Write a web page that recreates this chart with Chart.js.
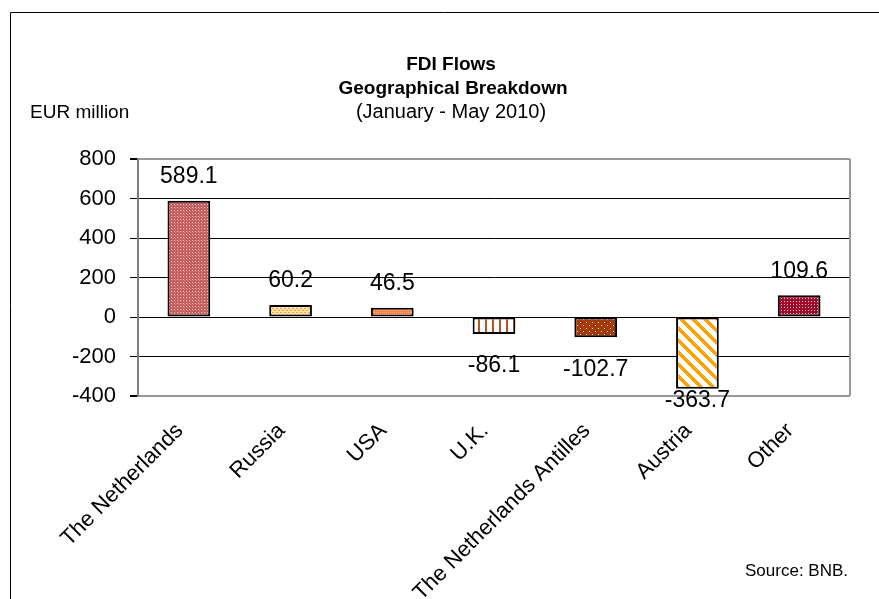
<!DOCTYPE html>
<html>
<head>
<meta charset="utf-8">
<script src="https://cdn.jsdelivr.net/npm/chart.js@4.4.1/dist/chart.umd.min.js"></script>
<style>
  html, body { margin: 0; padding: 0; background: #fff; }
  #wrap { position: relative; width: 879px; height: 599px; }
</style>
</head>
<body>
<div id="wrap"><canvas id="grafica" width="879" height="599"></canvas></div>
<script>
const paises = ["The Netherlands", "Russia", "USA", "U.K.", "The Netherlands Antilles", "Austria", "Other"];
const valores = [589.1, 60.2, 46.5, -86.1, -102.7, -363.7, 109.6];
const ticksY = [-400, -200, 0, 200, 400, 600, 800];

const FUENTE = "'Liberation Sans', Arial, sans-serif";

// small canvas tiles used as bar fills
function patron(w, h, pintar) {
  const c = document.createElement("canvas");
  c.width = w;
  c.height = h;
  const g = c.getContext("2d");
  pintar(g, w, h);
  return document.getElementById("grafica").getContext("2d").createPattern(c, "repeat");
}

function px(g, color, x, y, w, h) {
  g.fillStyle = color;
  g.fillRect(x, y, w || 1, h || 1);
}

const rellenos = [
  patron(3, 3, (g) => {
    px(g, "#c45c5c", 0, 0, 3, 3);
    px(g, "#f2c8c8", 0, 0);
    px(g, "#d88484", 1, 1);
  }),
  patron(4, 4, (g) => {
    px(g, "#ffe4ac", 0, 0, 4, 4);
    px(g, "#f7a040", 0, 0, 2, 1); px(g, "#f7a040", 2, 2, 2, 1);
  }),
  patron(2, 2, (g) => {
    px(g, "#ff8040", 0, 0, 2, 2);
    px(g, "#ffb088", 0, 0);
  }),
  patron(7, 7, (g) => {
    px(g, "#ffffff", 0, 0, 7, 7);
    px(g, "#b5541f", 2, 0, 2, 7);
  }),
  patron(6, 6, (g) => {
    px(g, "#a33a0c", 0, 0, 6, 6);
    px(g, "#f4d8c8", 1, 1); px(g, "#f4d8c8", 4, 4);
  }),
  patron(12, 12, (g) => {
    px(g, "#ffffff", 0, 0, 12, 12);
    for (let y = 0; y < 12; y++) {
      for (let x = 0; x < 12; x++) {
        if ((((x - y) % 12) + 12) % 12 < 5) px(g, "#ffa200", x, y);
      }
    }
  }),
  patron(3, 3, (g) => {
    px(g, "#9c0c2c", 0, 0, 3, 3);
    px(g, "#f2b8c4", 1, 1);
  })
];

const textos = {
  id: "textos",
  beforeDraw(chart) {
    const ctx = chart.ctx;
    ctx.save();
    ctx.fillStyle = "#fff";
    ctx.fillRect(0, 0, chart.width, chart.height);
    // outer frame
    ctx.strokeStyle = "#000";
    ctx.lineWidth = 1;
    ctx.beginPath();
    ctx.moveTo(10.5, chart.height);
    ctx.lineTo(10.5, 12.5);
    ctx.lineTo(chart.width, 12.5);
    ctx.stroke();
    ctx.restore();
  },
  afterDraw(chart) {
    const ctx = chart.ctx;
    const a = chart.chartArea;
    ctx.save();
    ctx.fillStyle = "#000";
    ctx.textBaseline = "middle";
    ctx.textAlign = "center";
    ctx.font = "bold 19px " + FUENTE;
    ctx.fillText("FDI Flows", 451, 65);
    ctx.fillText("Geographical Breakdown", 453, 89);
    ctx.font = "20px " + FUENTE;
    ctx.fillText("(January - May 2010)", 451, 112);
    ctx.textAlign = "left";
    ctx.font = "19px " + FUENTE;
    ctx.fillText("EUR million", 30, 113);
    ctx.textAlign = "right";
    ctx.font = "17px " + FUENTE;
    ctx.fillText("Source: BNB.", 848, 571);

    // right border of plot area
    ctx.strokeStyle = "#999";
    ctx.lineWidth = 2;
    ctx.beginPath();
    ctx.moveTo(a.right, a.top);
    ctx.lineTo(a.right, a.bottom);
    ctx.stroke();

    // value labels
    ctx.textAlign = "center";
    ctx.font = "23px " + FUENTE;
    const meta = chart.getDatasetMeta(0);
    meta.data.forEach((bar, i) => {
      const v = valores[i];
      let y;
      if (v >= 0) {
        y = bar.y - 24;
      } else {
        y = Math.min(bar.y + 32, a.bottom + 5);
      }
      ctx.fillText(v.toFixed(1), bar.x, y);
    });
    ctx.restore();
  }
};

new Chart(document.getElementById("grafica"), {
  type: "bar",
  data: {
    labels: paises,
    datasets: [{
      data: valores,
      backgroundColor: rellenos,
      borderColor: "#000",
      borderWidth: 2,
      borderSkipped: false,
      barPercentage: 0.42,
      categoryPercentage: 1
    }]
  },
  options: {
    responsive: false,
    animation: false,
    events: [],
    layout: { padding: { top: 159, right: 29, left: 0, bottom: 0 } },
    plugins: {
      legend: { display: false },
      tooltip: { enabled: false }
    },
    scales: {
      x: {
        grid: { display: false },
        border: { display: false },
        afterFit(s) { s.height = 203; },
        ticks: {
          color: "#000",
          font: { family: FUENTE, size: 22 },
          minRotation: 45,
          maxRotation: 45,
          autoSkip: false,
          labelOffset: -9,
          padding: 14
        }
      },
      y: {
        min: -400,
        max: 800,
        afterFit(s) { s.width = 138; },
        afterBuildTicks(s) { s.ticks = ticksY.map(v => ({ value: v })); },
        border: { color: "#808080", width: 2 },
        grid: {
          color: (c) => (c.tick && (c.tick.value === 800 || c.tick.value === -400)) ? "#999" : "#000",
          lineWidth: (c) => (c.tick && (c.tick.value === 800 || c.tick.value === -400)) ? 2 : 1,
          tickColor: "#000",
          tickLength: 8,
          drawTicks: true
        },
        ticks: {
          color: "#000",
          font: { family: FUENTE, size: 22 },
          padding: 14
        }
      }
    }
  },
  plugins: [textos]
});
</script>
</body>
</html>
